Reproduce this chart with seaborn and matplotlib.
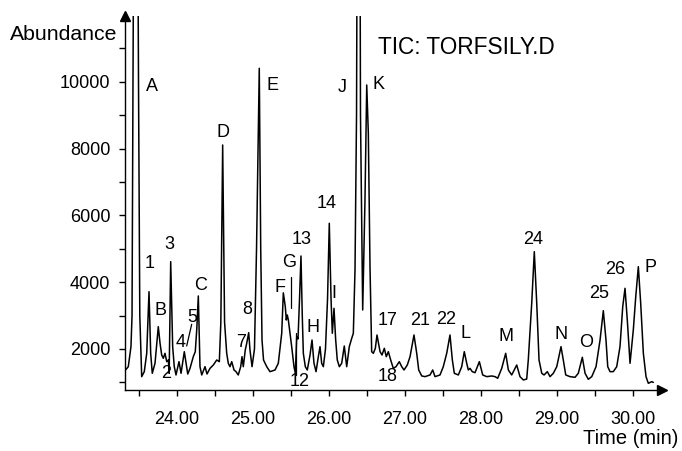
import numpy as np
import pandas as pd
import matplotlib
matplotlib.use("Agg")
import matplotlib.pyplot as plt
import seaborn as sns

# ---- trace (retention time in min, abundance) ----
time_min = [
    23.327, 23.364, 23.399, 23.413, 23.426, 23.459, 23.498, 23.515, 23.540, 23.574,
    23.606, 23.636, 23.658, 23.679, 23.715, 23.758, 23.781, 23.803, 23.824, 23.846,
    23.869, 23.890, 23.901, 23.921, 23.947, 23.968, 23.991, 24.030, 24.057, 24.100,
    24.145, 24.175, 24.218, 24.244, 24.264, 24.284, 24.306, 24.329, 24.372, 24.398,
    24.438, 24.481, 24.526, 24.560, 24.580, 24.604, 24.629, 24.657, 24.678, 24.700,
    24.723, 24.753, 24.779, 24.809, 24.841, 24.858, 24.875, 24.901, 24.920, 24.946,
    24.963, 24.990, 25.022, 25.049, 25.085, 25.104, 25.121, 25.141, 25.183, 25.226,
    25.292, 25.335, 25.380, 25.401, 25.427, 25.440, 25.453, 25.467, 25.511, 25.541,
    25.559, 25.577, 25.594, 25.614, 25.633, 25.650, 25.664, 25.690, 25.716, 25.752,
    25.778, 25.804, 25.831, 25.861, 25.883, 25.905, 25.927, 25.955, 25.982, 26.005,
    26.028, 26.045, 26.067, 26.089, 26.110, 26.137, 26.168, 26.202, 26.234, 26.268,
    26.300, 26.321, 26.343, 26.363, 26.392, 26.415, 26.444, 26.474, 26.497, 26.518,
    26.540, 26.562, 26.584, 26.610, 26.632, 26.672, 26.698, 26.728, 26.754, 26.781,
    26.812, 26.846, 26.882, 26.925, 26.957, 26.987, 27.030, 27.066, 27.118, 27.154,
    27.180, 27.220, 27.263, 27.329, 27.364, 27.394, 27.460, 27.503, 27.548, 27.591,
    27.622, 27.648, 27.701, 27.745, 27.779, 27.811, 27.832, 27.854, 27.884, 27.920,
    27.977, 28.021, 28.074, 28.139, 28.183, 28.218, 28.271, 28.323, 28.358, 28.402,
    28.468, 28.511, 28.555, 28.599, 28.620, 28.665, 28.699, 28.731, 28.761, 28.797,
    28.827, 28.870, 28.906, 28.949, 28.994, 29.050, 29.080, 29.112, 29.168, 29.234,
    29.277, 29.330, 29.366, 29.409, 29.454, 29.510, 29.563, 29.606, 29.641, 29.664,
    29.694, 29.737, 29.782, 29.825, 29.861, 29.891, 29.921, 29.957, 30.000, 30.032,
    30.066, 30.097, 30.132, 30.167, 30.197, 30.242, 30.263,
]
abundance = [
    1371, 1470, 2069, 3000, 10000, 30000, 10000, 3000, 1171, 1321,
    1870, 3715, 1870, 1272, 1571, 2667, 2170, 1820, 1721, 1870,
    1620, 1670, 1272, 4613, 2069, 1470, 1222, 1620, 1272, 1919,
    1250, 1421, 1770, 1919, 2600, 3586, 1470, 1222, 1470, 1251,
    1421, 1520, 1670, 1620, 2800, 8105, 2800, 1870, 1571, 1470,
    1620, 1371, 1321, 1222, 1470, 1769, 1470, 1969, 2170, 2488,
    1969, 1470, 2000, 5000, 10401, 5000, 2268, 1670, 1470, 1321,
    1371, 1571, 2470, 3680, 3266, 2867, 3017, 2867, 2069, 1470,
    1272, 2368, 2300, 3500, 4783, 3000, 1870, 1470, 1371, 1820,
    2268, 1571, 1321, 1769, 2069, 1571, 1470, 2000, 3500, 5762,
    3500, 2470, 3217, 2268, 1670, 1470, 1571, 2089, 1470, 2069,
    2320, 2470, 4374, 9000, 30000, 9000, 3167, 6458, 9901, 8456,
    4463, 1920, 1870, 2020, 2418, 1919, 1820, 2020, 1769, 1919,
    1670, 1421, 1470, 1620, 1470, 1371, 1520, 1769, 2418, 1870,
    1371, 1192, 1172, 1222, 1371, 1172, 1222, 1470, 1870, 2418,
    1670, 1272, 1222, 1470, 1919, 1571, 1371, 1420, 1321, 1290,
    1620, 1222, 1172, 1192, 1172, 1123, 1421, 1870, 1371, 1222,
    1520, 1172, 1072, 1100, 1670, 3368, 4912, 3368, 1670, 1272,
    1222, 1321, 1172, 1272, 1470, 2069, 1670, 1222, 1172, 1152,
    1272, 1750, 1272, 1092, 1172, 1470, 2268, 3146, 2268, 1470,
    1321, 1321, 1470, 2069, 3267, 3816, 2867, 1571, 2568, 3565,
    4463, 3368, 1870, 1172, 973, 1021, 1000,
]

# ---- peak annotations ----
peak_labels = ["A", "1", "B", "2", "3", "4", "5", "C", "D", "7", "8", "E", "F", "G",
               "13", "12", "H", "14", "I", "J", "K", "17", "18", "21", "22", "L", "M",
               "24", "N", "O", "25", "26", "P"]
label_time = [23.675, 23.649, 23.781, 23.855, 23.899, 24.057, 24.210, 24.315, 24.604,
              24.841, 24.933, 25.256, 25.357, 25.480, 25.643, 25.620, 25.795, 25.971,
              26.071, 26.181, 26.649, 26.767, 26.767, 27.197, 27.539, 27.789, 28.327,
              28.678, 29.050, 29.378, 29.553, 29.760, 30.229]
label_abund = [9841, 4565, 3137, 1272, 5133, 2188, 2937, 3885, 8486,
               2188, 3167, 9871, 3846, 4595, 5262, 1021, 2637, 6340,
               3646, 9832, 9922, 2867, 1172, 2867, 2897, 2470, 2388,
               5262, 2440, 2188, 3646, 4364, 4433]

# leader lines (label "5", "G", "12")
leader_t0 = [24.197, 25.498, 25.568]
leader_t1 = [24.131, 25.498, 25.568]
leader_v0 = [2739, 4155, 2470]
leader_v1 = [2089, 3227, 1222]

x_ticks = [23.5, 24.0, 24.5, 25.0, 25.5, 26.0, 26.5, 27.0, 27.5, 28.0, 28.5, 29.0, 29.5, 30.0]
x_tick_labels = ["", "24.00", "", "25.00", "", "26.00", "", "27.00", "", "28.00", "", "29.00", "", "30.00"]
y_ticks = [1000, 2000, 3000, 4000, 5000, 6000, 7000, 8000, 9000, 10000, 11000]
y_tick_labels = ["", "2000", "", "4000", "", "6000", "", "8000", "", "10000", ""]

df = pd.DataFrame({"time": time_min, "abundance": abundance})

sns.set_style("ticks")
plt.rcParams["font.family"] = ["Liberation Sans", "DejaVu Sans"]

fig = plt.figure(figsize=(6.82, 4.51), dpi=100)
W, H = 682, 451
ax_l, ax_r, ax_b, ax_t = 125, 662, 390, 16
ax = fig.add_axes([ax_l / W, (H - ax_b) / H, (ax_r - ax_l) / W, (ax_b - ax_t) / H])

sns.lineplot(data=df, x="time", y="abundance", sort=False, estimator=None,
             color="black", linewidth=1.1, ax=ax)

ax.set_xlim(23.3206, 30.377)
ax.set_ylim(772, 11966)

ax.set_xticks(x_ticks)
ax.set_xticklabels(x_tick_labels)
ax.set_yticks(y_ticks)
ax.set_yticklabels(y_tick_labels)
ax.tick_params(axis="both", direction="out", length=4, width=1.0, labelsize=13, colors="black")
ax.tick_params(axis="x", pad=11)
ax.tick_params(axis="y", pad=6.5)
ax.set_xlabel("")
ax.set_ylabel("")

for s in ["top", "right"]:
    ax.spines[s].set_visible(False)
for s in ["left", "bottom"]:
    ax.spines[s].set_linewidth(1.0)
    ax.spines[s].set_color("black")

# axis arrows
ax.plot([0], [1], marker="^", color="black", markersize=7.5, transform=ax.transAxes, clip_on=False)
ax.plot([1], [0], marker=">", color="black", markersize=7.5, transform=ax.transAxes, clip_on=False)

for lab, t, v in zip(peak_labels, label_time, label_abund):
    ax.text(t, v, lab, ha="center", va="center", fontsize=13, color="black")

for t0, t1, v0, v1 in zip(leader_t0, leader_t1, leader_v0, leader_v1):
    ax.plot([t0, t1], [v0, v1], color="black", linewidth=0.9)

ax.text((378 - ax_l) / (ax_r - ax_l), (ax_b - 48) / (ax_b - ax_t), "TIC: TORFSILY.D",
        transform=ax.transAxes, ha="left", va="center", fontsize=16.3, color="black")

fig.text(10 / W, 1 - 35 / H, "Abundance", ha="left", va="center", fontsize=15.3, color="black")
fig.text(583 / W, 1 - 438 / H, "Time (min)", ha="left", va="center", fontsize=14.5, color="black")

fig.savefig("out.png", dpi=100, facecolor="white")
